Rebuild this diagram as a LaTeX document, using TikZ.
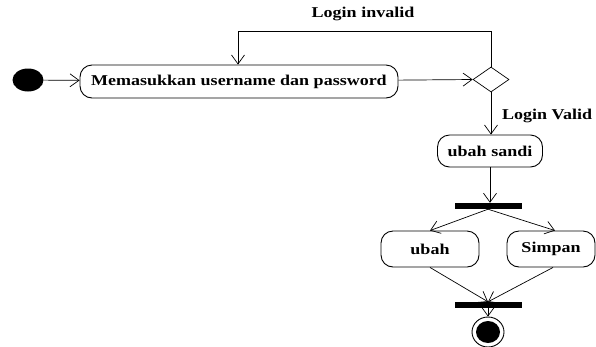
\documentclass[tikz,border=0pt]{standalone}
\usepackage{fontspec}
\setmainfont{Liberation Serif}
\usetikzlibrary{shapes.geometric,arrows.meta}
\newcommand{\wtxt}[1]{\scalebox{1.2}[1]{#1}}
\begin{document}
\begin{tikzpicture}[x=1pt,y=-1pt,
  act/.style={draw,line width=0.9pt,rounded corners=12pt,font=\bfseries\fontsize{15}{17}\selectfont,inner sep=0pt},
  bar/.style={fill=black,draw=none,minimum width=67pt,minimum height=6pt,inner sep=0pt},
  flow/.style={line width=0.7pt,-{Straight Barb[length=9pt,width=13pt,line width=0.7pt]}},
  lbl/.style={font=\bfseries\fontsize{15}{17}\selectfont,inner sep=0pt}]
\useasboundingbox (0,0) rectangle (596,346);
\node[ellipse,fill=black,minimum width=31pt,minimum height=23pt,inner sep=0pt] (start) at (28,80) {};
\node[act,minimum width=318pt,minimum height=33pt] (login) at (239,81.5) {\wtxt{Memasukkan username dan password}};
\node[diamond,draw,line width=0.7pt,minimum width=36pt,minimum height=25pt,inner sep=0pt] (dec) at (491,79.5) {};
\node[act,minimum width=105pt,minimum height=32pt] (sandi) at (490,151) {\wtxt{ubah sandi}};
\node[bar] (fork) at (488,206) {};
\node[act,minimum width=98pt,minimum height=36pt] (ubah) at (430,249) {\wtxt{ubah}};
\node[act,minimum width=88pt,minimum height=36pt] (simpan) at (551,249) {\wtxt{Simpan}};
\node[bar] (join) at (488,305) {};
\node[ellipse,draw,line width=0.9pt,minimum width=32pt,minimum height=30pt,inner sep=0pt] (endo) at (488,332) {};
\node[ellipse,fill=black,minimum width=24pt,minimum height=22pt,inner sep=0pt] (endi) at (488,332) {};
\node[lbl] (linv) at (363,14) {\wtxt{Login invalid}};
\node[lbl,anchor=west] (lval) at (502,116) {\wtxt{Login Valid}};
\coordinate (c1) at (491,31);
\coordinate (c2) at (238,31);
\draw[flow] (start) -- (login);
\draw[flow] (login) -- (dec.west);
\draw[flow] (dec.north) -- (c1) -- (c2) -- (c2 |- login.north);
\draw[flow] (dec.south) -- (sandi.north -| dec.south);
\draw[flow] (sandi.south) -- (fork.north -| sandi.south);
\draw[flow] (fork.south) -- (ubah.north);
\draw[flow] (fork.south) -- ([xshift=4pt]simpan.north);
\draw[flow] (ubah.south) -- (join.north);
\draw[flow] ([xshift=2pt]simpan.south) -- (join.north);
\draw[flow] (join.south) -- (endo.north);
\end{tikzpicture}
\end{document}
